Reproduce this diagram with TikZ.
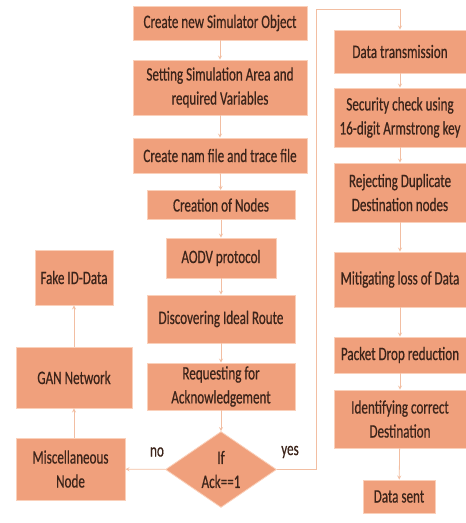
\documentclass[tikz,border=0pt]{standalone}
\usepackage{fontspec}
\setmainfont{Carlito}[FakeStretch=0.69, FakeBold=0.5]
\usepackage{tikz}
\usepackage{xcolor}
\usetikzlibrary{shapes.geometric}
\usetikzlibrary{arrows.meta}

\definecolor{boxouter}{RGB}{240,160,124}
\definecolor{boxinner}{RGB}{249,190,162}
\definecolor{boxedge}{RGB}{250,208,186}
\definecolor{linecol}{RGB}{242,190,162}
\definecolor{textcol}{RGB}{60,36,26}

\begin{document}
\begin{tikzpicture}[>=stealth, x=1pt, y=-1pt, line width=0.8pt,
    box/.style = {draw=boxedge, top color=boxouter, middle color=boxinner, bottom color=boxouter, rectangle, align=center, inner sep=2pt, text=textcol, font=\fontsize{19}{24}\selectfont},
    decision/.style = {draw=boxedge, top color=boxouter, middle color=boxinner, bottom color=boxouter, diamond, align=center, inner sep=0pt, text=textcol, font=\fontsize{19}{24}\selectfont},
    line/.style = {draw=linecol, ->},
    lbl/.style = {text=textcol, font=\fontsize{19}{24}\selectfont}]

    \useasboundingbox (0,0) rectangle (466,523);

    % main column
    \node[box, minimum width=174pt, minimum height=34pt] (1) at (220,23) {Create new Simulator Object};
    \node[box, minimum width=174pt, minimum height=55pt] (2) at (220,87.5) {Setting Simulation Area and\\required Variables};
    \node[box, minimum width=174pt, minimum height=35pt] (3) at (220,155.5) {Create nam file and trace file};
    \node[box, minimum width=148pt, minimum height=29pt] (4) at (221,205) {Creation of Nodes};
    \node[box, minimum width=110pt, minimum height=40pt] (5) at (221,258) {AODV protocol};
    \node[box, minimum width=148pt, minimum height=48pt] (6) at (221,319) {Discovering Ideal Route};
    \node[box, minimum width=148pt, minimum height=47pt] (7) at (221,386.5) {Requesting for\\Acknowledgement};
    \node[decision, minimum width=111pt, minimum height=75pt] (8) at (221,469.5) {If\\Ack==1};

    % left column
    \node[box, minimum width=109pt, minimum height=62pt] (9) at (70.5,469) {Miscellaneous\\Node};
    \node[box, minimum width=116pt, minimum height=61pt] (10) at (74,377.5) {GAN Network};
    \node[box, minimum width=78pt, minimum height=55pt] (11) at (74,277.5) {Fake ID-Data};

    % right column
    \node[box, minimum width=132pt, minimum height=43pt] (12) at (400,51.5) {Data transmission};
    \node[box, minimum width=132pt, minimum height=59pt] (13) at (400,117.5) {Security check using\\16-digit Armstrong key};
    \node[box, minimum width=132pt, minimum height=59pt] (14) at (400,192.5) {Rejecting Duplicate\\Destination nodes};
    \node[box, minimum width=132pt, minimum height=55pt] (15) at (400,279.5) {Mitigating loss of Data};
    \node[box, minimum width=132pt, minimum height=36pt] (16) at (400,355) {Packet Drop reduction};
    \node[box, minimum width=132pt, minimum height=58pt] (17) at (400,419) {Identifying correct\\Destination};
    \node[box, minimum width=72pt, minimum height=33pt] (18) at (399,496.5) {Data sent};

    \coordinate (a) at (316,469.5);
    \coordinate (b) at (316,9);
    \coordinate (c) at (400,9);

    \draw[line] (1) -- (2);
    \draw[line] (2) -- (3);
    \draw[line] (3) -- (4);
    \draw[line] (4) -- (5);
    \draw[line] (5) -- (6);
    \draw[line] (6) -- (7);
    \draw[line] (7) -- (8);
    \draw[line] (8) -- (9);
    \draw[line] (9.north -| 10.south) -- (10);
    \draw[line] (10.north -| 11.south) -- (11);
    \draw[line] (8.east) -- (a) -- (b) -- (c) -- (12);
    \draw[line] (12) -- (13);
    \draw[line] (13) -- (14);
    \draw[line] (14) -- (15);
    \draw[line] (15) -- (16);
    \draw[line] (16) -- (17);
    \draw[line] (17) -- (18);

    \node[lbl] (no) at (157,452) {no};
    \node[lbl] (yes) at (290,452) {yes};
\end{tikzpicture}
\end{document}
